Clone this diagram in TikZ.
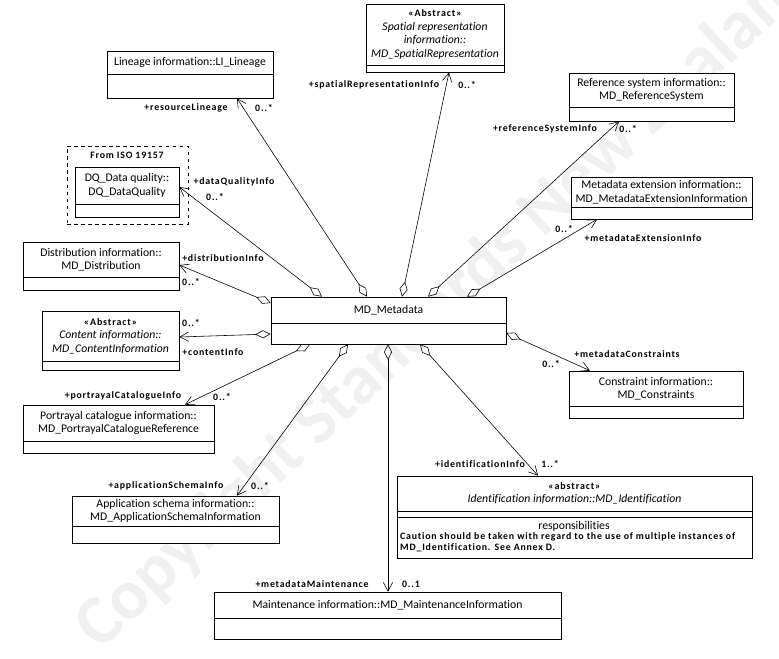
\documentclass[tikz,border=0pt]{standalone}
\usepackage{fontspec}
\setmainfont{Carlito}[Ligatures={NoCommon}]
\usetikzlibrary{arrows.meta,calc,fit}

% class box: name, x1, y1, x2, y2, y of divider, title
\newcommand{\umlclass}[7]{%
  \node[clsbox, fit={(#2,#3) (#4,#5)}] (#1) {};
  \draw[clsline] (#1.west |- 0,#6) -- (#1.east |- 0,#6);
  \node[clstitle] (#1t) at ({(#2+#4)/2},{(#3+#6)/2}) {#7};
}
\newcommand{\stereo}{\fontsize{8.5}{10}\bfseries\addfontfeature{LetterSpace=9}}

\begin{document}
\begin{tikzpicture}[
    x=0.03cm, y=-0.03cm,
    clsbox/.style={rectangle, draw, fill=white, inner sep=0pt, line width=0.6pt},
    clsline/.style={line width=0.6pt},
    clstitle/.style={align=center, inner sep=0pt, font=\fontsize{10}{11.5}\selectfont},
    pkg/.style={rectangle, draw, dashed, inner sep=0pt, line width=0.6pt},
    role/.style={inner sep=0pt, font=\fontsize{8.4}{10}\bfseries\addfontfeature{LetterSpace=8}},
    assoc/.style={{Diamond[open,length=4.6mm,width=2.4mm]}-{Straight Barb[length=2.6mm,width=2.8mm]}, line width=0.5pt},
    watermark/.style={font=\fontsize{60}{60}\bfseries, text=black!6, rotate=43, inner sep=0pt},
]
\useasboundingbox (0,0) rectangle (779,658);

\node[watermark, anchor=base west] (wm) at (100,652) {Copyright Standards New Zealand};

% classes
\node[pkg, fit={(67,146) (188,224)}] (dqpkg) {};
\node[role] (dqpkgt) at (127,155) {From ISO 19157};
\umlclass{dq}{75}{167}{179}{217}{204}{DQ\_Data quality::\\DQ\_DataQuality}
\umlclass{lin}{107}{51}{273}{98}{74}{Lineage information::LI\_Lineage}
\umlclass{spat}{366}{4}{504}{72}{65}{{\stereo «Abstract»}\\\itshape Spatial representation\\\itshape information::\\\itshape MD\_SpatialRepresentation}
\umlclass{refsys}{569}{73}{734}{121}{107}{Reference system information::\\MD\_ReferenceSystem}
\umlclass{ext}{571}{177}{752}{219}{207}{Metadata extension information::\\MD\_MetadataExtensionInformation}
\umlclass{dist}{23}{242}{179}{290}{277}{Distribution information::\\MD\_Distribution}
\umlclass{cont}{42}{311}{179}{370}{361}{{\stereo «Abstract»}\\\itshape Content information::\\\itshape MD\_ContentInformation}
\umlclass{md}{271}{297}{506}{344}{323}{MD\_Metadata}
\umlclass{cons}{569}{371}{743}{418}{406}{Constraint information::\\MD\_Constraints}
\umlclass{port}{23}{405}{214}{453}{441}{Portrayal catalogue information::\\MD\_PortrayalCatalogueReference}
\umlclass{app}{72}{496}{279}{543}{526}{Application schema information::\\MD\_ApplicationSchemaInformation}
\umlclass{ident}{397}{476}{752}{558}{511}{{\stereo «abstract»}\\\itshape Identification information::MD\_Identification}
\draw[clsline] (ident.west |- 0,517) -- (ident.east |- 0,517);
\node[clstitle] (identr) at (574,526) {responsibilities};
\node[role, anchor=north west, align=left] (identn) at (400,532) {Caution should be taken with regard to the use of multiple instances of\\MD\_Identification. See Annex D.};
\umlclass{maint}{214}{592}{561}{639}{618}{Maintenance information::MD\_MaintenanceInformation}

% associations
\draw[assoc] (md.north -| 322,0) -- (dq.east |- 0,187);
\draw[assoc] (md.north -| 367,0) -- (lin.south -| 237,0);
\draw[assoc] (md.north -| 402,0) -- (spat.south -| 449,0);
\draw[assoc] (md.north -| 428,0) -- (refsys.south -| 619,0);
\draw[assoc] (md.north -| 467,0) -- (ext.south -| 597,0);
\draw[assoc] (md.west |- 0,303) -- (dist.east |- 0,265);
\draw[assoc] (md.west |- 0,334) -- (cont.east |- 0,337);
\draw[assoc] (md.east |- 0,333) -- (cons.north -| 590,0);
\draw[assoc] (md.south -| 310,0) -- (port.north -| 185,0);
\draw[assoc] (md.south -| 348,0) -- (app.north -| 237,0);
\draw[assoc] (md.south -| 388,0) -- (maint.north -| 388,0);
\draw[assoc] (md.south -| 420,0) -- (ident.north -| 538,0);

% role names and multiplicities
\node[role] (rlin) at (186,108) {+resourceLineage};
\node[role] (mlin) at (264,108) {0..*};
\node[role] (rspat) at (374,85) {+spatialRepresentationInfo};
\node[role] (mspat) at (467,85) {0..*};
\node[role] (rref) at (545,129) {+referenceSystemInfo};
\node[role] (mref) at (628,129) {0..*};
\node[role] (rdq) at (234,182) {+dataQualityInfo};
\node[role] (mdq) at (215,197) {0..*};
\node[role] (mext) at (564,229) {0..*};
\node[role] (rext) at (643,238) {+metadataExtensionInfo};
\node[role] (rdist) at (223,258) {+distributionInfo};
\node[role] (mdist) at (191,282) {0..*};
\node[role] (mcont) at (191,323) {0..*};
\node[role] (rcont) at (213,352) {+contentInfo};
\node[role] (rcons) at (627,354) {+metadataConstraints};
\node[role] (mcons) at (551,364) {0..*};
\node[role] (rport) at (123,396) {+portrayalCatalogueInfo};
\node[role] (mport) at (222,397) {0..*};
\node[role] (rapp) at (166,486) {+applicationSchemaInfo};
\node[role] (mapp) at (260,486) {0..*};
\node[role] (rid) at (480,464) {+identificationInfo};
\node[role] (mid) at (550,464) {1..*};
\node[role] (rmaint) at (312,584) {+metadataMaintenance};
\node[role] (mmaint) at (411,584) {0..1};
\end{tikzpicture}
\end{document}
